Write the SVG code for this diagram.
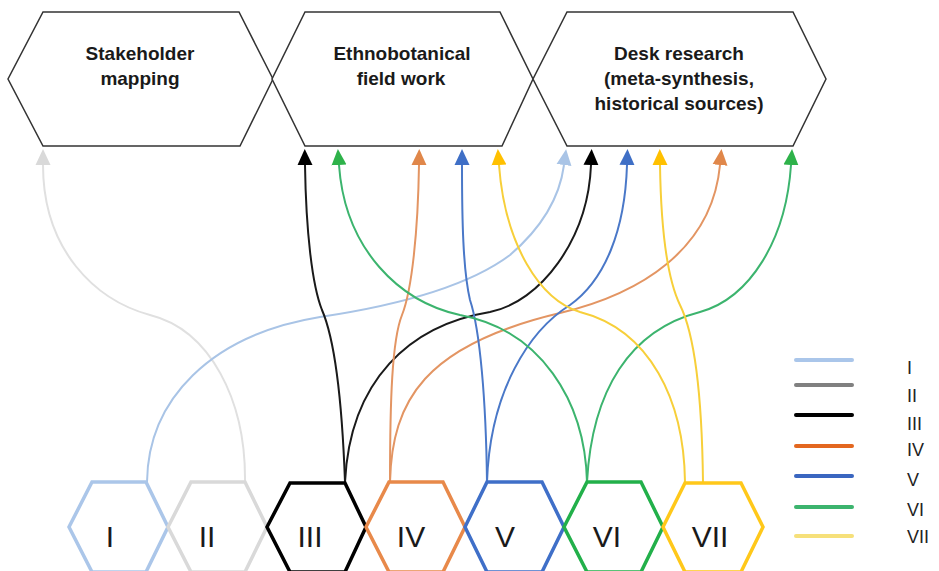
<svg xmlns="http://www.w3.org/2000/svg" width="939" height="571" viewBox="0 0 939 571">
<style>
.top{fill:#fff;stroke:#333;stroke-width:1.5}
.tl{font-family:"Liberation Sans",Arial,sans-serif;font-weight:bold;font-size:19px;fill:#1a1a1a;text-anchor:middle}
.hx{fill:#fff;stroke-width:3.5;stroke-linejoin:miter}
.hl{font-family:"Liberation Sans",Arial,sans-serif;font-size:30px;fill:#1a1a1a;text-anchor:middle}
.c{fill:none;stroke-width:2}
.lg{stroke-width:4;stroke-linecap:round}
.lt{font-family:"Liberation Sans",Arial,sans-serif;font-size:18px;fill:#222}
</style>
<defs>
<marker id="a-gray" markerUnits="userSpaceOnUse" markerWidth="16" markerHeight="16" viewBox="0 0 16 16" refX="0" refY="8" orient="auto"><path d="M0,0.5 L16,8 L0,15.5 z" fill="#d9d9d9"/></marker>
<marker id="a-lblue" markerUnits="userSpaceOnUse" markerWidth="16" markerHeight="16" viewBox="0 0 16 16" refX="0" refY="8" orient="auto"><path d="M0,0.5 L16,8 L0,15.5 z" fill="#a9c4e6"/></marker>
<marker id="a-black" markerUnits="userSpaceOnUse" markerWidth="16" markerHeight="16" viewBox="0 0 16 16" refX="0" refY="8" orient="auto"><path d="M0,0.5 L16,8 L0,15.5 z" fill="#000"/></marker>
<marker id="a-orange" markerUnits="userSpaceOnUse" markerWidth="16" markerHeight="16" viewBox="0 0 16 16" refX="0" refY="8" orient="auto"><path d="M0,0.5 L16,8 L0,15.5 z" fill="#e0874a"/></marker>
<marker id="a-blue" markerUnits="userSpaceOnUse" markerWidth="16" markerHeight="16" viewBox="0 0 16 16" refX="0" refY="8" orient="auto"><path d="M0,0.5 L16,8 L0,15.5 z" fill="#3f6fc6"/></marker>
<marker id="a-green" markerUnits="userSpaceOnUse" markerWidth="16" markerHeight="16" viewBox="0 0 16 16" refX="0" refY="8" orient="auto"><path d="M0,0.5 L16,8 L0,15.5 z" fill="#2eb24a"/></marker>
<marker id="a-yellow" markerUnits="userSpaceOnUse" markerWidth="16" markerHeight="16" viewBox="0 0 16 16" refX="0" refY="8" orient="auto"><path d="M0,0.5 L16,8 L0,15.5 z" fill="#ffc000"/></marker>
</defs>
<rect width="939" height="571" fill="#fff"/>

<g id="connectors">
<path class="c" stroke="#e0e0e0" marker-end="url(#a-gray)" d="M245,482 C246,400 210,330 150,315 C95,300 43,250 43,165"/>
<path class="c" stroke="#a9c4e6" marker-end="url(#a-lblue)" d="M147,482 C148,400 210,335 320,317 C400,305 470,285 510,255 C545,225 560,195 564,165"/>
<path class="c" stroke="#1a1a1a" marker-end="url(#a-black)" d="M345,482 C342,400 335,340 322,310 C312,285 306,230 305,165"/>
<path class="c" stroke="#1a1a1a" marker-end="url(#a-black)" d="M345,482 C350,380 410,325 490,312 C540,302 588,240 591,165"/>
<path class="c" stroke="#e39563" marker-end="url(#a-orange)" d="M390,482 C390,400 392,340 402,315 C412,290 418,230 419,165"/>
<path class="c" stroke="#e39563" marker-end="url(#a-orange)" d="M390,482 C392,400 425,345 560,313 C640,294 712,250 720,165"/>
<path class="c" stroke="#4a78c8" marker-end="url(#a-blue)" d="M487,482 C486,400 480,330 470,300 C463,270 462,220 462,165"/>
<path class="c" stroke="#4a78c8" marker-end="url(#a-blue)" d="M487,482 C490,390 530,330 570,305 C605,280 625,230 627,165"/>
<path class="c" stroke="#3cb46e" marker-end="url(#a-green)" d="M587,482 C585,400 540,330 460,315 C400,302 345,250 339,165"/>
<path class="c" stroke="#3cb46e" marker-end="url(#a-green)" d="M587,482 C592,390 630,330 700,312 C750,298 786,240 791,165"/>
<path class="c" stroke="#f7cf3a" marker-end="url(#a-yellow)" d="M685,482 C684,400 650,330 580,312 C540,300 505,245 499,165"/>
<path class="c" stroke="#f7cf3a" marker-end="url(#a-yellow)" d="M703,482 C702,400 695,335 680,305 C668,280 661,230 660,165"/>
</g>

<g id="node-stakeholder">
<polygon class="top" points="43,12 239,12 273,79 240,146 43,146 8,79"/>
<text class="tl" x="140" y="60">Stakeholder</text>
<text class="tl" x="140" y="85">mapping</text>
</g>
<g id="node-fieldwork">
<polygon class="top" points="305,12 500,12 533,79 502,146 305,146 272,79"/>
<text class="tl" x="402" y="60">Ethnobotanical</text>
<text class="tl" x="401" y="85">field work</text>
</g>
<g id="node-desk">
<polygon class="top" points="567,12 793,12 826,79 793,146 567,146 533,79"/>
<text class="tl" x="679" y="60">Desk research</text>
<text class="tl" x="679" y="85">(meta-synthesis,</text>
<text class="tl" x="679" y="110">historical sources)</text>
</g>

<g id="node-I">
<polygon class="hx" stroke="#abc6e9" points="92,482 146,482 168,527 146,572 92,572 69,527"/>
<text class="hl" x="110" y="547">I</text>
</g>
<g id="node-II">
<polygon class="hx" stroke="#d9d9d9" points="191,482 245,482 267,527 245,572 191,572 168,527"/>
<text class="hl" x="207" y="547">II</text>
</g>
<g id="node-III">
<polygon class="hx" stroke="#000" points="290,483 345,483 366,527 345,572 290,572 267,527"/>
<text class="hl" x="310" y="547">III</text>
</g>
<g id="node-IV">
<polygon class="hx" stroke="#e8894a" points="389,482 443,482 465,527 443,572 389,572 366,527"/>
<text class="hl" x="411" y="547">IV</text>
</g>
<g id="node-V">
<polygon class="hx" stroke="#3f6fc8" points="487,482 542,482 564,527 542,572 487,572 465,527"/>
<text class="hl" x="505" y="547">V</text>
</g>
<g id="node-VI">
<polygon class="hx" stroke="#22b04a" points="587,482 641,482 663,527 641,572 587,572 564,527"/>
<text class="hl" x="607" y="547">VI</text>
</g>
<g id="node-VII">
<polygon class="hx" stroke="#ffc81a" points="685,483 741,483 763,527 741,572 685,572 663,527"/>
<text class="hl" x="710" y="547">VII</text>
</g>

<g id="legend">
<line class="lg" x1="796" y1="360" x2="852" y2="360" stroke="#aac6ea"/>
<line class="lg" x1="796" y1="385" x2="852" y2="385" stroke="#808080"/>
<line class="lg" x1="796" y1="415" x2="852" y2="415" stroke="#000"/>
<line class="lg" x1="796" y1="446" x2="852" y2="446" stroke="#e3671f"/>
<line class="lg" x1="796" y1="476" x2="852" y2="476" stroke="#3a66c0"/>
<line class="lg" x1="796" y1="507" x2="852" y2="507" stroke="#3cb46e"/>
<line class="lg" x1="796" y1="536" x2="852" y2="536" stroke="#f6e07a"/>
<text class="lt" x="907" y="374">I</text>
<text class="lt" x="907" y="402">II</text>
<text class="lt" x="907" y="430">III</text>
<text class="lt" x="907" y="456">IV</text>
<text class="lt" x="907" y="486">V</text>
<text class="lt" x="907" y="516">VI</text>
<text class="lt" x="907" y="543">VII</text>
</g>
</svg>
